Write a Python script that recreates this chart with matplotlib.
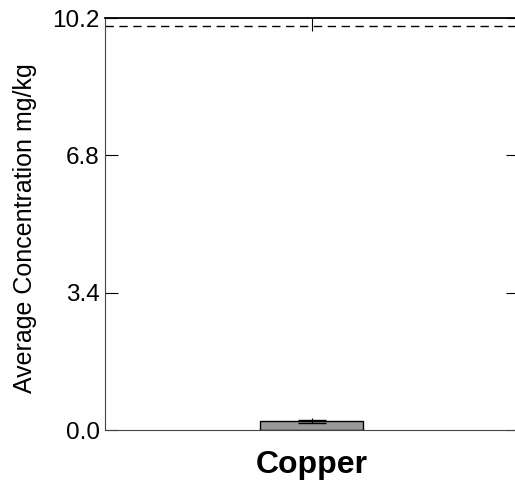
import matplotlib
matplotlib.use("Agg")
import matplotlib.pyplot as plt

plt.rcParams["font.family"] = ["Liberation Sans", "DejaVu Sans"]

metals = ["Copper"]
mean_conc = [0.22]
err_conc = [0.04]
guideline = 10.0
yticks = [0.0, 3.4, 6.8, 10.2]

fig = plt.figure(figsize=(5.15, 4.9), dpi=100)
ax = fig.add_axes([0.204, 0.122, 0.802, 0.841])

x = list(range(len(metals)))
ax.bar(x, mean_conc, width=0.25, color="#999999", edgecolor="black", linewidth=1, zorder=2)
ax.errorbar(x, mean_conc, yerr=err_conc, fmt="none", ecolor="black", elinewidth=1,
            capsize=10, capthick=1, zorder=3)
ax.axhline(guideline, color="black", lw=1, ls=(0, (6, 4)))

ax.set_xlim(-0.5, 0.5)
ax.set_ylim(0, 10.2)
ax.set_xticks(x)
ax.set_xticklabels(metals, fontsize=23, fontweight="bold")
ax.set_yticks(yticks)
ax.set_yticklabels([f"{v:.1f}" for v in yticks], fontsize=17.5)
ax.tick_params(axis="y", direction="in", length=9, left=True, right=True, pad=4)
ax.tick_params(axis="x", direction="in", length=9, top=True, bottom=True, pad=14)
ax.set_ylabel("Average Concentration mg/kg", fontsize=18)
ax.yaxis.set_label_coords(-0.165, 0.49)

for s in ["left", "bottom"]:
    ax.spines[s].set_color("#444444")
ax.spines["top"].set_linewidth(1.3)

fig.savefig("out.png", dpi=100)
